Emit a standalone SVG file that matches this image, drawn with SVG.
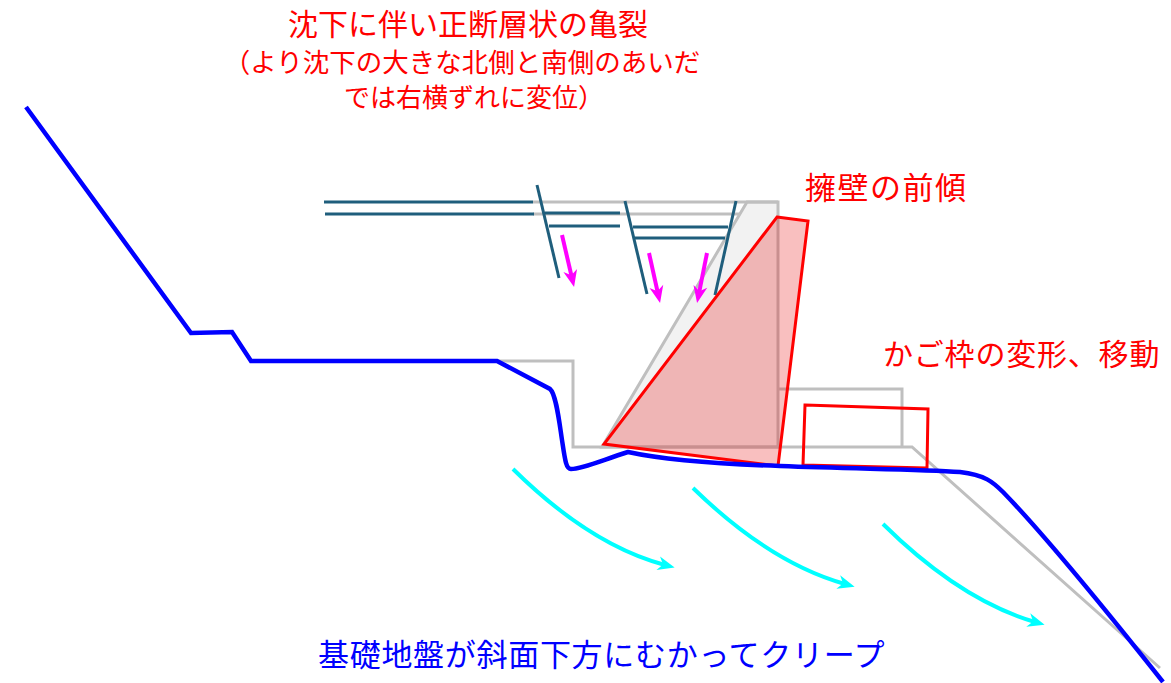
<svg xmlns="http://www.w3.org/2000/svg" width="1171" height="683" viewBox="0 0 1171 683">
  <style>
    .lbl { font-family: "Noto Sans CJK JP", "Noto Sans", sans-serif; }
    .red { fill: #ff0000; }
    .blue { fill: #0000ff; }
    .orig { fill: none; stroke: #bfbfbf; stroke-width: 3; }
    .layer { stroke: #1f5e7c; stroke-width: 3; fill: none; }
    .moved { stroke: #ff0000; stroke-width: 3; }
    .creep { fill: none; stroke: #00ffff; stroke-width: 4; }
    .sink { stroke: #ff00ff; stroke-width: 4; }
  </style>
  <defs>
    <marker id="head-cyan" viewBox="-10 -9 22 18" refX="0" refY="0" markerWidth="22" markerHeight="18" markerUnits="userSpaceOnUse" orient="auto">
      <path d="M10,0 L-7,-7 L-2,0 L-7,7 Z" fill="#00ffff"/>
    </marker>
    <marker id="head-mag" viewBox="-10 -9 22 18" refX="0" refY="0" markerWidth="22" markerHeight="18" markerUnits="userSpaceOnUse" orient="auto">
      <path d="M10,0 L-7,-7 L-2,0 L-7,7 Z" fill="#ff00ff"/>
    </marker>
  </defs>

  <rect width="1171" height="683" fill="#ffffff"/>

  <!-- original profile before deformation -->
  <g id="original-profile">
    <polygon points="747,202 778,202 778,447 602,447" fill="#f2f2f2" stroke="#bfbfbf" stroke-width="3"/>
    <polyline class="orig" points="497,361 573,361 573,447 912,447 1160,668"/>
    <polyline class="orig" points="778,389 902,389 902,447"/>
    <line class="orig" x1="533" y1="202" x2="778" y2="202"/>
    <line class="orig" x1="533" y1="214" x2="740" y2="214"/>
  </g>

  <!-- ground strata and cracks -->
  <g id="strata">
    <line class="layer" x1="324" y1="202" x2="533" y2="202"/>
    <line class="layer" x1="325" y1="214" x2="534" y2="214"/>
    <line class="layer" x1="545" y1="213" x2="620" y2="213"/>
    <line class="layer" x1="549" y1="226" x2="620" y2="226"/>
    <line class="layer" x1="633" y1="227" x2="728" y2="227"/>
    <line class="layer" x1="635" y1="238" x2="725" y2="238"/>
    <line class="layer" x1="537" y1="185" x2="559" y2="278"/>
    <line class="layer" x1="625" y1="201" x2="647" y2="294"/>
    <line class="layer" x1="736" y1="201" x2="715" y2="295"/>
  </g>

  <!-- retaining wall, tilted forward -->
  <g id="wall">
    <polygon class="moved" points="777,217 808,221 778,466 604,444" fill="#e60000" fill-opacity="0.25"/>
  </g>

  <!-- gabion, deformed and displaced -->
  <g id="gabion">
    <polygon class="moved" points="805,405 928,409 927,468 803,465" fill="none"/>
  </g>

  <!-- present ground surface -->
  <g id="ground-surface">
    <path d="M26,107 L191,333 L232,332 L251,361 L497,361 L550,389 C556,394 559,420 562,440 C565,460 566,469 571,469 C582,469 600,461 628,452 C660,459 720,464 780,466 C860,469 920,469 960,472 C985,475 993,482 1003,492 C1035,525 1090,590 1163,682" fill="none" stroke="#0000ff" stroke-width="4.5"/>
  </g>

  <!-- movement arrows -->
  <g id="connectors">
    <line class="sink" x1="562" y1="235" x2="571.8" y2="277.3" marker-end="url(#head-mag)"/>
    <line class="sink" x1="649" y1="253" x2="657.9" y2="293.2" marker-end="url(#head-mag)"/>
    <line class="sink" x1="707" y1="253" x2="699" y2="293.2" marker-end="url(#head-mag)"/>
    <path class="creep" d="M513,469 Q590,545 665,565" marker-end="url(#head-cyan)"/>
    <path class="creep" d="M693,488 Q770,563 845,584" marker-end="url(#head-cyan)"/>
    <path class="creep" d="M883,524 Q960,600 1035,622" marker-end="url(#head-cyan)"/>
  </g>

  <!-- labels -->
  <g id="label-crack" class="lbl red" text-anchor="middle">
    <text x="468" y="35" font-size="30">沈下に伴い正断層状の亀裂</text>
    <text x="462" y="72" font-size="26.5">（より沈下の大きな北側と南側のあいだ</text>
    <text x="474" y="107" font-size="26">では右横ずれに変位）</text>
  </g>
  <g id="label-wall" class="lbl red">
    <text x="805" y="199" font-size="31" letter-spacing="1.5">擁壁の前傾</text>
  </g>
  <g id="label-gabion" class="lbl red">
    <text x="883" y="365" font-size="30" letter-spacing="0.8">かご枠の変形、移動</text>
  </g>
  <g id="label-creep" class="lbl blue">
    <text x="318" y="666" font-size="31" letter-spacing="0.7">基礎地盤が斜面下方にむかってクリープ</text>
  </g>
</svg>
